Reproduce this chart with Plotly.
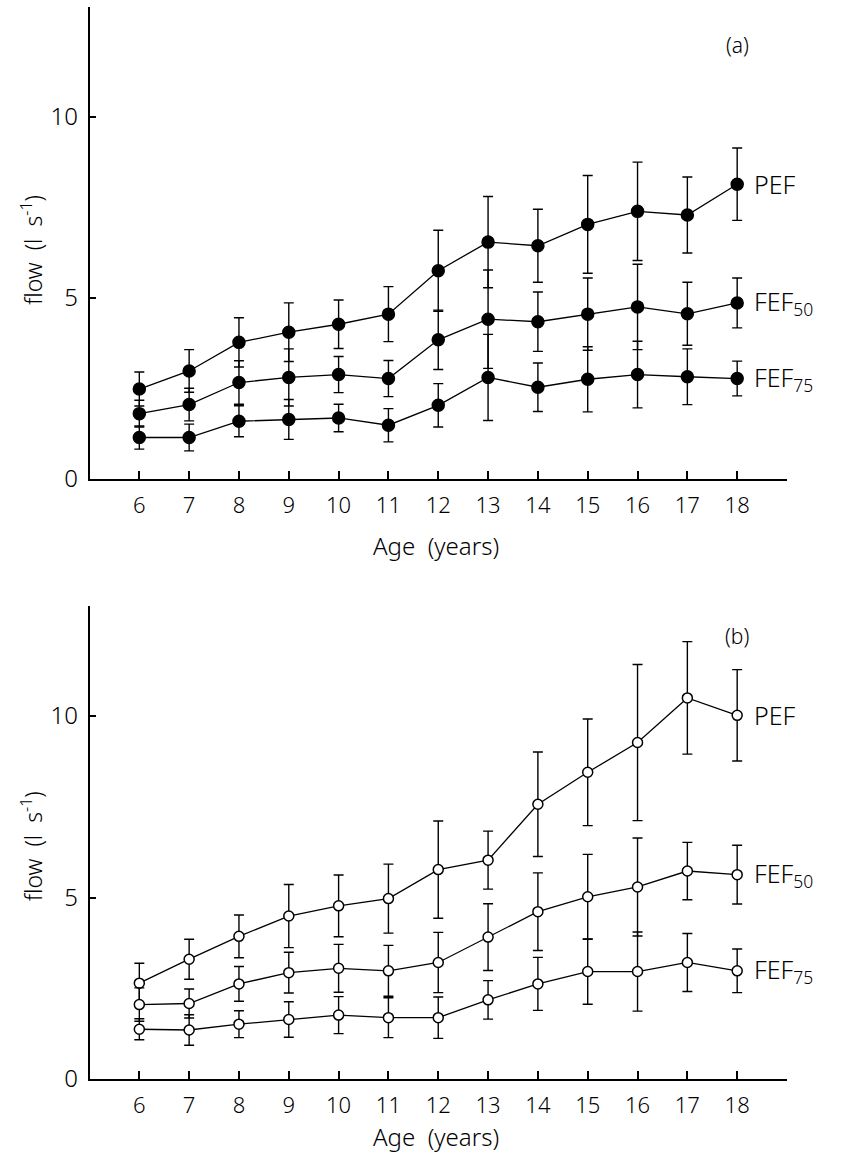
import plotly.graph_objects as go

ages = [6, 7, 8, 9, 10, 11, 12, 13, 14, 15, 16, 17, 18]

# Panel (a)
pef_a = [2.48, 2.98, 3.77, 4.05, 4.27, 4.55, 5.75, 6.54, 6.44, 7.03, 7.39, 7.29, 8.14]
pef_a_sd = [0.47, 0.59, 0.68, 0.81, 0.67, 0.76, 1.12, 1.26, 1.01, 1.35, 1.36, 1.05, 1.00]
fef50_a = [1.80, 2.05, 2.66, 2.80, 2.88, 2.77, 3.84, 4.41, 4.34, 4.55, 4.75, 4.56, 4.86]
fef50_a_sd = [0.37, 0.45, 0.60, 0.79, 0.50, 0.50, 0.82, 1.36, 0.82, 1.00, 1.18, 0.87, 0.69]
fef75_a = [1.14, 1.14, 1.59, 1.64, 1.68, 1.48, 2.03, 2.80, 2.53, 2.75, 2.88, 2.82, 2.77]
fef75_a_sd = [0.32, 0.37, 0.43, 0.55, 0.38, 0.46, 0.60, 1.19, 0.67, 0.90, 0.92, 0.77, 0.48]

# Panel (b)
pef_b = [2.64, 3.30, 3.93, 4.49, 4.77, 4.97, 5.77, 6.03, 7.57, 8.45, 9.27, 10.50, 10.02]
pef_b_sd = [0.55, 0.55, 0.59, 0.87, 0.85, 0.95, 1.34, 0.80, 1.44, 1.47, 2.15, 1.55, 1.26]
fef50_b = [2.05, 2.08, 2.62, 2.93, 3.05, 2.98, 3.21, 3.91, 4.61, 5.02, 5.29, 5.73, 5.63]
fef50_b_sd = [0.46, 0.40, 0.48, 0.56, 0.66, 0.70, 0.83, 0.92, 1.07, 1.17, 1.35, 0.79, 0.81]
fef75_b = [1.37, 1.35, 1.51, 1.64, 1.76, 1.69, 1.69, 2.18, 2.62, 2.96, 2.96, 3.21, 2.98]
fef75_b_sd = [0.29, 0.42, 0.37, 0.49, 0.51, 0.55, 0.57, 0.53, 0.73, 0.90, 1.09, 0.80, 0.60]

series_labels = ["PEF", "FEF<sub>50</sub>", "FEF<sub>75</sub>"]
y_ticks = [0, 5, 10]

SANS = "Noto Sans, DejaVu Sans, sans-serif"

fig = go.Figure()

panels = [
    ("x", "y", [(pef_a, pef_a_sd), (fef50_a, fef50_a_sd), (fef75_a, fef75_a_sd)], "black"),
    ("x2", "y2", [(pef_b, pef_b_sd), (fef50_b, fef50_b_sd), (fef75_b, fef75_b_sd)], "white"),
]

for xa, ya, series, fill in panels:
    for vals, sd in series:
        fig.add_trace(go.Scatter(
            x=ages, y=vals, xaxis=xa, yaxis=ya,
            mode="lines+markers",
            line=dict(color="black", width=1.3),
            marker=dict(size=12 if fill == "black" else 10, color=fill,
                        line=dict(color="black", width=1.5), symbol="circle"),
            error_y=dict(type="data", array=sd, visible=True, color="black",
                         thickness=1.4, width=5),
            showlegend=False, cliponaxis=False,
        ))
    for (vals, sd), lab in zip(series, series_labels):
        fig.add_annotation(x=ages[-1], y=vals[-1], xref=xa, yref=ya, text=lab,
                           xanchor="left", yanchor="middle", xshift=15, showarrow=False,
                           font=dict(family=SANS, size=25, color="black", weight=300))

fig.add_annotation(x=18, y=12.0, xref="x", yref="y", text="(a)", showarrow=False,
                   font=dict(family=SANS, size=21, color="black", weight=300))
fig.add_annotation(x=18, y=12.2, xref="x2", yref="y2", text="(b)", showarrow=False,
                   font=dict(family=SANS, size=21, color="black", weight=300))

H = 1169.0
for yc in [(H - 253) / H, (H - 857) / H]:
    fig.add_annotation(x=32 / 860, y=yc, xref="paper", yref="paper",
                       text="flow&nbsp;&nbsp;(l&nbsp;&nbsp;s<sup>-1</sup>)", textangle=-90,
                       showarrow=False, xanchor="center", yanchor="middle",
                       font=dict(family=SANS, size=23, color="black", weight=300))
# x-axis titles: top panel centred, bottom panel anchored at the page bottom
fig.add_annotation(x=436 / 860, y=(H - 553) / H, xref="paper", yref="paper",
                   text="Age&nbsp;&nbsp;(years)", showarrow=False,
                   xanchor="center", yanchor="middle",
                   font=dict(family=SANS, size=24, color="black", weight=300))
fig.add_annotation(x=436 / 860, y=0, xref="paper", yref="paper",
                   text="Age&nbsp;&nbsp;(years)", showarrow=False,
                   xanchor="center", yanchor="bottom", borderpad=0,
                   font=dict(family=SANS, size=24, color="black", weight=300))

xdom = [89.5 / 860, 787 / 860]
xcommon = dict(domain=xdom, range=[5, 19], tickvals=ages, ticks="inside", ticklen=8,
               tickwidth=1.5, tickcolor="black", showline=True, linewidth=1.6,
               linecolor="black", showgrid=False, zeroline=False,
               tickfont=dict(family=SANS, size=22, color="black", weight=300),
               ticklabelstandoff=6)
ycommon = dict(range=[0, 13.04], tickvals=y_ticks, ticks="inside", ticklen=7,
               tickwidth=1.5, tickcolor="black", showline=True, linewidth=1.6,
               linecolor="black", showgrid=False, zeroline=False,
               tickfont=dict(family=SANS, size=24, color="black", weight=300),
               ticklabelstandoff=5)

fig.update_layout(
    width=860, height=1169,
    margin=dict(l=0, r=0, t=0, b=0),
    paper_bgcolor="white", plot_bgcolor="white",
    showlegend=False,
    xaxis=dict(anchor="y", **xcommon),
    yaxis=dict(anchor="x", domain=[(H - 485) / H, (H - 7) / H], **ycommon),
    xaxis2=dict(anchor="y2", **xcommon),
    yaxis2=dict(anchor="x2", domain=[(H - 1093) / H, (H - 613.6) / H], **ycommon),
)

fig.write_html("out.html")
